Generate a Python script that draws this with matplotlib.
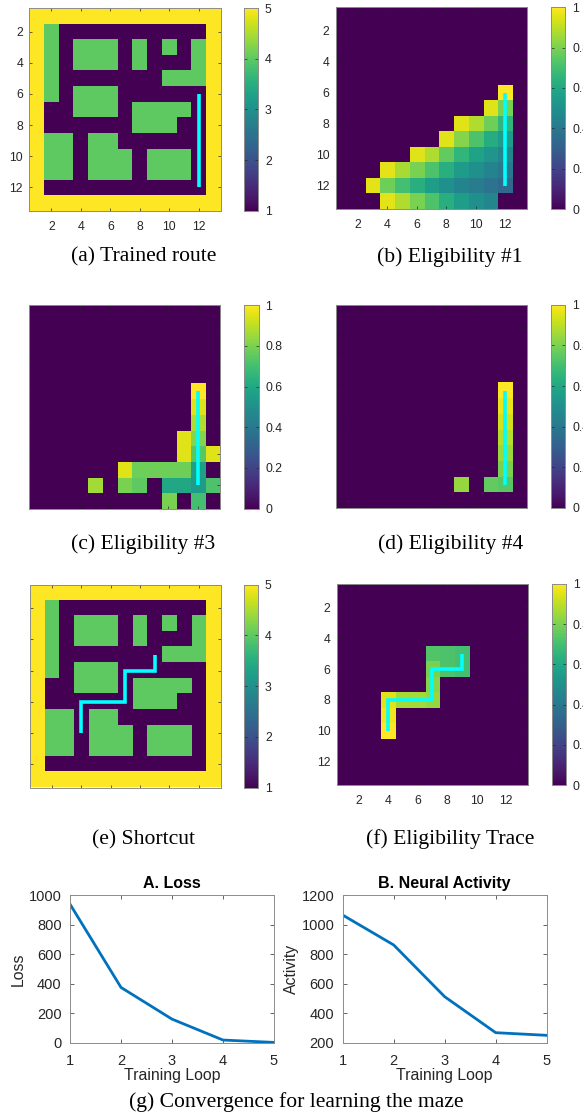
import numpy as np
import matplotlib
matplotlib.use("Agg")
import matplotlib.pyplot as plt

W, H, DPI = 583, 1117, 100

# ---------------- data ----------------
# maze: 1 = free floor, 4 = inner wall, 5 = outer wall
maze = np.array([
    [5, 5, 5, 5, 5, 5, 5, 5, 5, 5, 5, 5, 5],
    [5, 4, 1, 1, 1, 1, 1, 1, 1, 1, 1, 1, 5],
    [5, 4, 1, 4, 4, 4, 1, 4, 1, 4, 1, 4, 5],
    [5, 4, 1, 4, 4, 4, 1, 4, 1, 1, 1, 4, 5],
    [5, 4, 1, 1, 1, 1, 1, 1, 1, 4, 4, 4, 5],
    [5, 4, 1, 4, 4, 4, 1, 1, 1, 1, 1, 1, 5],
    [5, 1, 1, 4, 4, 4, 1, 4, 4, 4, 4, 1, 5],
    [5, 1, 1, 1, 1, 1, 1, 4, 4, 4, 1, 1, 5],
    [5, 4, 4, 1, 4, 4, 1, 1, 1, 1, 1, 1, 5],
    [5, 4, 4, 1, 4, 4, 4, 1, 4, 4, 4, 1, 5],
    [5, 4, 4, 1, 4, 4, 4, 1, 4, 4, 4, 1, 5],
    [5, 1, 1, 1, 1, 1, 1, 1, 1, 1, 1, 1, 5],
    [5, 5, 5, 5, 5, 5, 5, 5, 5, 5, 5, 5, 5],
])

elig1 = np.array([
    [0, 0, 0, 0, 0, 0, 0, 0, 0, 0, 0, 0, 0],
    [0, 0, 0, 0, 0, 0, 0, 0, 0, 0, 0, 0, 0],
    [0, 0, 0, 0, 0, 0, 0, 0, 0, 0, 0, 0, 0],
    [0, 0, 0, 0, 0, 0, 0, 0, 0, 0, 0, 0, 0],
    [0, 0, 0, 0, 0, 0, 0, 0, 0, 0, 0, 0, 0],
    [0, 0, 0, 0, 0, 0, 0, 0, 0, 0, 0, 1.00, 0],
    [0, 0, 0, 0, 0, 0, 0, 0, 0, 0, 0.95, 0.80, 0],
    [0, 0, 0, 0, 0, 0, 0, 0, 0.95, 0.88, 0.78, 0.66, 0],
    [0, 0, 0, 0, 0, 0, 0, 0.95, 0.82, 0.72, 0.62, 0.55, 0],
    [0, 0, 0, 0, 0, 0.95, 0.88, 0.76, 0.66, 0.58, 0.52, 0.46, 0],
    [0, 0, 0, 0.96, 0.87, 0.80, 0.72, 0.63, 0.55, 0.50, 0.45, 0.40, 0],
    [0, 0, 0.96, 0.78, 0.70, 0.63, 0.56, 0.50, 0.45, 0.42, 0.38, 0.34, 0],
    [0, 0, 0, 0.96, 0.88, 0.80, 0.72, 0.63, 0.56, 0.50, 0.46, 0, 0],
])

elig3 = np.array([
    [0, 0, 0, 0, 0, 0, 0, 0, 0, 0, 0, 0, 0],
    [0, 0, 0, 0, 0, 0, 0, 0, 0, 0, 0, 0, 0],
    [0, 0, 0, 0, 0, 0, 0, 0, 0, 0, 0, 0, 0],
    [0, 0, 0, 0, 0, 0, 0, 0, 0, 0, 0, 0, 0],
    [0, 0, 0, 0, 0, 0, 0, 0, 0, 0, 0, 0, 0],
    [0, 0, 0, 0, 0, 0, 0, 0, 0, 0, 0, 1.00, 0],
    [0, 0, 0, 0, 0, 0, 0, 0, 0, 0, 0, 0.95, 0],
    [0, 0, 0, 0, 0, 0, 0, 0, 0, 0, 0, 0.88, 0],
    [0, 0, 0, 0, 0, 0, 0, 0, 0, 0, 0.95, 0.82, 0],
    [0, 0, 0, 0, 0, 0, 0, 0, 0, 0, 0.95, 0.74, 0.95],
    [0, 0, 0, 0, 0, 0, 0.95, 0.78, 0.78, 0.78, 0.78, 0.57, 0],
    [0, 0, 0, 0, 0.86, 0, 0.80, 0.75, 0, 0.60, 0.60, 0.55, 0.72],
    [0, 0, 0, 0, 0, 0, 0, 0, 0, 0.80, 0, 0.70, 0],
])

elig4 = np.array([
    [0, 0, 0, 0, 0, 0, 0, 0, 0, 0, 0, 0, 0],
    [0, 0, 0, 0, 0, 0, 0, 0, 0, 0, 0, 0, 0],
    [0, 0, 0, 0, 0, 0, 0, 0, 0, 0, 0, 0, 0],
    [0, 0, 0, 0, 0, 0, 0, 0, 0, 0, 0, 0, 0],
    [0, 0, 0, 0, 0, 0, 0, 0, 0, 0, 0, 0, 0],
    [0, 0, 0, 0, 0, 0, 0, 0, 0, 0, 0, 1.00, 0],
    [0, 0, 0, 0, 0, 0, 0, 0, 0, 0, 0, 0.97, 0],
    [0, 0, 0, 0, 0, 0, 0, 0, 0, 0, 0, 0.93, 0],
    [0, 0, 0, 0, 0, 0, 0, 0, 0, 0, 0, 0.89, 0],
    [0, 0, 0, 0, 0, 0, 0, 0, 0, 0, 0, 0.85, 0],
    [0, 0, 0, 0, 0, 0, 0, 0, 0, 0, 0, 0.80, 0],
    [0, 0, 0, 0, 0, 0, 0, 0, 0.84, 0, 0.76, 0.74, 0],
    [0, 0, 0, 0, 0, 0, 0, 0, 0, 0, 0, 0, 0],
])

trace = np.array([
    [0, 0, 0, 0, 0, 0, 0, 0, 0, 0, 0, 0, 0],
    [0, 0, 0, 0, 0, 0, 0, 0, 0, 0, 0, 0, 0],
    [0, 0, 0, 0, 0, 0, 0, 0, 0, 0, 0, 0, 0],
    [0, 0, 0, 0, 0, 0, 0, 0, 0, 0, 0, 0, 0],
    [0, 0, 0, 0, 0, 0, 0.73, 0.72, 0.70, 0, 0, 0, 0],
    [0, 0, 0, 0, 0, 0, 0.80, 0.72, 0.70, 0, 0, 0, 0],
    [0, 0, 0, 0, 0, 0, 0.82, 0, 0, 0, 0, 0, 0],
    [0, 0, 0, 0.95, 0.87, 0.86, 0.84, 0, 0, 0, 0, 0, 0],
    [0, 0, 0, 0.98, 0, 0, 0, 0, 0, 0, 0, 0, 0],
    [0, 0, 0, 1.00, 0, 0, 0, 0, 0, 0, 0, 0, 0],
    [0, 0, 0, 0, 0, 0, 0, 0, 0, 0, 0, 0, 0],
    [0, 0, 0, 0, 0, 0, 0, 0, 0, 0, 0, 0, 0],
    [0, 0, 0, 0, 0, 0, 0, 0, 0, 0, 0, 0, 0],
])

# agent routes (column, row)
route_cols = [12, 12]
route_rows = [6, 12]
shortcut_cols = [4, 4, 7, 7, 9, 9]
shortcut_rows = [10, 8, 8, 6, 6, 5]

grid_ticks = [2, 4, 6, 8, 10, 12]
maze_cb_ticks = [1, 2, 3, 4, 5]
elig_cb_ticks = [0, 0.2, 0.4, 0.6, 0.8, 1]

loops = [1, 2, 3, 4, 5]
loss = [940, 375, 160, 18, 2]
activity = [1066, 863, 512, 268, 250]

captions = ["(a) Trained route", "(b) Eligibility #1", "(c) Eligibility #3",
            "(d) Eligibility #4", "(e) Shortcut", "(f) Eligibility Trace",
            "(g) Convergence for learning the maze"]

# ---------------- drawing ----------------
SANS = "Liberation Sans"
SERIF = "Liberation Serif"
TXT = "#262626"
EDGE = "#8c8c8c"
plt.rcParams["font.family"] = SANS

fig = plt.figure(figsize=(W / DPI, H / DPI), dpi=DPI)


def px_axes(x0, y0, x1, y1):
    return fig.add_axes([x0 / W, 1 - y1 / H, (x1 - x0) / W, (y1 - y0) / H])


def style_box(ax):
    for s in ax.spines.values():
        s.set_color(EDGE)
        s.set_linewidth(0.7)


def heatmap(box, cbox, M, vmin, vmax, cbticks, pc, pr, labels):
    ax = px_axes(*box)
    im = ax.imshow(M, cmap="viridis", vmin=vmin, vmax=vmax,
                   extent=(0.5, 13.5, 13.5, 0.5), aspect="auto",
                   interpolation="nearest")
    ax.plot(pc, pr, color="#00ffff", lw=2.6, solid_capstyle="butt",
            solid_joinstyle="miter")
    ax.set_xlim(0.5, 13.5)
    ax.set_ylim(13.5, 0.5)
    ax.set_xticks(grid_ticks)
    ax.set_yticks(grid_ticks)
    ax.tick_params(direction="in", length=2.5, width=0.5, color=TXT,
                   top=True, right=True, labelsize=8.8, labelcolor=TXT)
    ax.tick_params(axis="x", pad=7.5)
    ax.tick_params(axis="y", pad=4.5)
    if not labels:
        ax.set_xticklabels([])
        ax.set_yticklabels([])
    style_box(ax)
    cax = px_axes(*cbox)
    cb = fig.colorbar(im, cax=cax)
    cb.set_ticks(cbticks)
    cb.set_ticklabels([("%g" % t) for t in cbticks])
    cax.tick_params(direction="in", length=2.5, width=0.5, color=TXT,
                    left=True, right=True, labelsize=8.8, labelcolor=TXT, pad=5)
    cb.outline.set_edgecolor(EDGE)
    cb.outline.set_linewidth(0.7)
    return ax


heatmap((29.3, 8.3, 220.7, 210.7), (244, 8.3, 258, 210.7), maze, 1, 5,
        maze_cb_ticks, route_cols, route_rows, True)
heatmap((335.7, 7.3, 527.3, 209), (550.7, 7.3, 565.3, 209), elig1, 0, 1,
        elig_cb_ticks, route_cols, route_rows, True)
heatmap((28.7, 305.3, 220, 508.5), (244, 305.3, 258.5, 508.5), elig3, 0, 1,
        elig_cb_ticks, route_cols, route_rows, False)
heatmap((335.7, 304.7, 527.3, 508), (550.7, 304.7, 565.3, 508), elig4, 0, 1,
        elig_cb_ticks, route_cols, route_rows, False)
heatmap((30, 584.7, 220.7, 787.5), (244, 584.7, 258, 787.5), maze, 1, 5,
        maze_cb_ticks, shortcut_cols, shortcut_rows, False)
heatmap((336.7, 584, 528, 785), (551.7, 584, 566, 785), trace, 0, 1,
        elig_cb_ticks, shortcut_cols, shortcut_rows, True)


def lineplot(box, y, ylim, yticks, title, ylabel):
    ax = px_axes(*box)
    ax.plot(loops, y, color="#0072BD", lw=2)
    ax.set_xlim(1, 5)
    ax.set_ylim(*ylim)
    ax.set_xticks(loops)
    ax.set_yticks(yticks)
    ax.tick_params(direction="in", length=3, width=0.5, color=TXT,
                   top=True, right=True, labelsize=10.5, labelcolor=TXT)
    ax.tick_params(axis="x", pad=8)
    ax.tick_params(axis="y", pad=6)
    ax.set_title(title, fontsize=11.5, fontweight="bold", pad=5, color="black")
    ax.set_xlabel("Training Loop", fontsize=11.4, color=TXT, labelpad=0)
    ax.set_ylabel(ylabel, fontsize=11.4, color=TXT, labelpad=2)
    style_box(ax)
    return ax


lineplot((70, 895.3, 274, 1042.7), loss, (0, 1000), range(0, 1001, 200),
         "A. Loss", "Loss")
lineplot((342.7, 895.3, 546.7, 1042.7), activity, (200, 1200),
         range(200, 1201, 200), "B. Neural Activity", "Activity")

cap_pos = [(143.5, 256.7), (450, 256.7), (143, 544), (450.8, 544),
           (143, 839.5), (450, 839.5), (296, 1101.7)]
for text, (cx, cy) in zip(captions, cap_pos):
    fig.text(cx / W, 1 - cy / H, text, ha="center", va="center",
             fontsize=15.6, family=SERIF, color="black")

fig.savefig("out.png", dpi=DPI)
